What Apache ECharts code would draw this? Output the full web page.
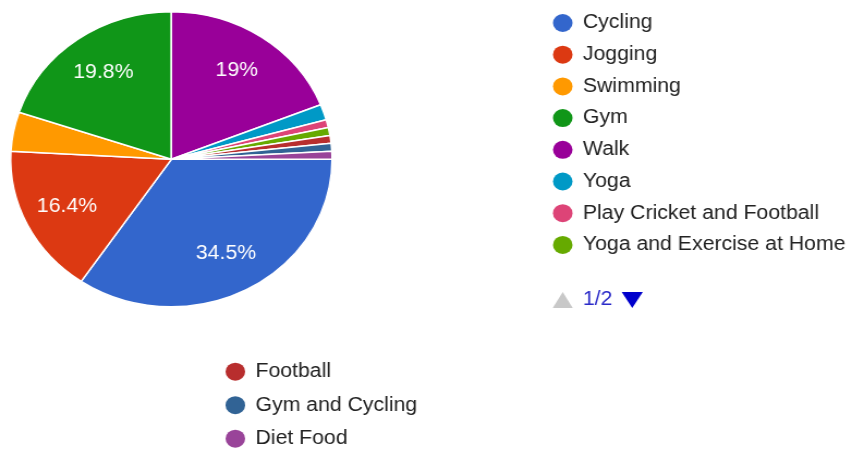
<!DOCTYPE html>
<html>
<head>
<meta charset="utf-8">
<script src="https://cdn.jsdelivr.net/npm/echarts@6/dist/echarts.min.js"></script>
<style>
  html, body { margin: 0; padding: 0; background: #fff; overflow: hidden; }
  /* the chart is drawn slightly narrower and widened to fill the 852px frame */
  #chart { width: 782px; height: 450px; transform: scaleX(1.0895); transform-origin: 0 0; }
</style>
</head>
<body>
<div id="chart"></div>
<script>
// Activities and number of responses
const activities = [
  'Cycling', 'Jogging', 'Swimming', 'Gym', 'Walk', 'Yoga',
  'Play Cricket and Football', 'Yoga and Exercise at Home',
  'Football', 'Gym and Cycling', 'Diet Food'
];
const responses = [40, 19, 5, 23, 22, 2, 1, 1, 1, 1, 1];
const sliceColors = [
  '#3366cc', '#dc3912', '#ff9900', '#109618', '#990099', '#0099c6',
  '#dd4477', '#66aa00', '#b82e2e', '#316395', '#994499'
];
// legend pages: first page on the right, second page underneath
const legendPage1 = activities.slice(0, 8);
const legendPage2 = activities.slice(8);
const pageLabel = '1/2';

const FONT = 'Arial, "Liberation Sans", sans-serif';
const pieData = activities.map((name, i) => ({ name: name, value: responses[i] }));

const chart = echarts.init(document.getElementById('chart'), null, { renderer: 'canvas' });

const legendBase = {
  orient: 'vertical',
  icon: 'circle',
  itemWidth: 18,
  itemHeight: 18,
  padding: 0,
  height: 120,
  selectedMode: false,
  itemStyle: { borderWidth: 0 },
  textStyle: { fontFamily: FONT, fontSize: 19.5, lineHeight: 18, color: '#222', padding: [0, 0, 0, 4.5] }
};

chart.setOption({
  animation: false,
  color: sliceColors,
  legend: [
    Object.assign({}, legendBase, { data: legendPage1, left: 507.5, top: 13, itemGap: 11.7, height: 300 }),
    Object.assign({}, legendBase, { data: legendPage2, left: 207, top: 361.7, itemGap: 13.5 })
  ],
  graphic: [
    { type: 'polygon', shape: { points: [[507.3, 308], [525.7, 308], [516.5, 292]] },
      style: { fill: '#c8c8c8' }, silent: true },
    { type: 'text', x: 535, y: 300,
      style: { text: pageLabel, fontFamily: FONT, fontSize: 19.5, fill: '#2a2ac8', verticalAlign: 'middle' },
      silent: true },
    { type: 'polygon', shape: { points: [[570.6, 292], [590, 292], [580.3, 308]] },
      style: { fill: '#0000cc' }, silent: true }
  ],
  series: [
    {
      name: 'Activity',
      type: 'pie',
      center: [157.3, 159.3],
      radius: [0, 147.5],
      startAngle: 0,
      clockwise: true,
      avoidLabelOverlap: false,
      label: { show: false },
      labelLine: { show: false },
      emphasis: { disabled: true },
      itemStyle: { borderColor: '#ffffff', borderWidth: 1.5 },
      data: pieData
    },
    {
      // transparent ring that carries the percentage labels
      name: 'Share',
      type: 'pie',
      center: [157.3, 159.3],
      radius: [60.5, 147.5],
      startAngle: 0,
      clockwise: true,
      silent: true,
      percentPrecision: 1,
      avoidLabelOverlap: false,
      itemStyle: { color: 'transparent', borderWidth: 0 },
      emphasis: { disabled: true },
      labelLine: { show: false },
      label: {
        show: true,
        position: 'inside',
        fontFamily: FONT,
        fontSize: 19.5,
        color: '#ffffff',
        formatter: p => (p.percent >= 5 ? p.percent + '%' : '')
      },
      data: pieData
    }
  ]
});
</script>
</body>
</html>
